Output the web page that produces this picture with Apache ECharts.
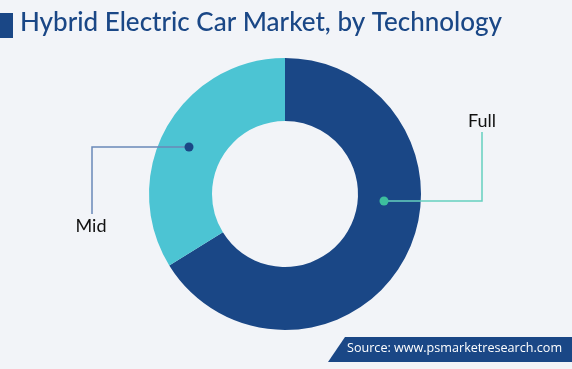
<!DOCTYPE html>
<html>
<head>
<meta charset="utf-8">
<script src="https://cdn.jsdelivr.net/npm/echarts@6/dist/echarts.min.js"></script>
<style>
html,body{margin:0;padding:0;background:#f2f4f8;}
#chart{width:572px;height:369px;}
</style>
</head>
<body>
<div id="chart"></div>
<script>
const categories = ['Full', 'Mid'];
const shares = [66.2, 33.8];
const sliceColors = ['#1a4786', '#4cc4d3'];
const dotColors = ['#3dbf9d', '#1a4786'];
const lineColors = ['#66d0bf', '#6a88b8'];
const titleText = 'Hybrid Electric Car Market, by Technology';
const sourceText = 'Source: www.psmarketresearch.com';

// leader line layout (annotation positions)
const leaders = [
  {pts: [[384, 201], [482, 201], [482, 132]], label: [482, 121]},
  {pts: [[189, 147], [92, 147], [92, 214]], label: [91, 226]}
];

const chart = echarts.init(document.getElementById('chart'), null, {renderer: 'canvas'});
const option = {
  backgroundColor: '#f2f4f8',
  animation: false,
  graphic: [
    {type: 'rect', shape: {x: 0, y: 13, width: 13, height: 25}, style: {fill: '#1a4786'}},
    {type: 'text', left: 20, top: 10, style: {text: titleText, fill: '#1a4786', font: '500 26px "Lato", sans-serif'}},
    {type: 'polygon', shape: {points: [[345, 337], [572, 337], [572, 362], [328, 362]]}, style: {fill: '#1a4786'}},
    {type: 'text', left: 347, top: 342, style: {text: sourceText, fill: '#ffffff', font: '12.6px "Open Sans", sans-serif'}},
    ...leaders.map((l, i) => ({type: 'polyline', z: 100, shape: {points: l.pts}, style: {stroke: lineColors[i], lineWidth: 1.5, fill: null}})),
    ...leaders.map((l, i) => ({type: 'circle', z: 101, shape: {cx: l.pts[0][0], cy: l.pts[0][1], r: 4.5}, style: {fill: dotColors[i]}}))
  ],
  series: [{
    type: 'pie',
    center: [285, 194],
    radius: [73, 136],
    startAngle: 90,
    clockwise: true,
    silent: true,
    label: {show: true, color: '#111', fontSize: 18, fontFamily: 'Lato, sans-serif', formatter: '{b}'},
    labelLine: {show: false},
    labelLayout: function (p) {
      const l = leaders[p.dataIndex];
      return {x: l.label[0], y: l.label[1], align: 'center', verticalAlign: 'middle'};
    },
    data: categories.map((c, i) => ({
      name: c, value: shares[i],
      itemStyle: {color: sliceColors[i]}
    }))
  }]
};
chart.setOption(option);
</script>
</body>
</html>
